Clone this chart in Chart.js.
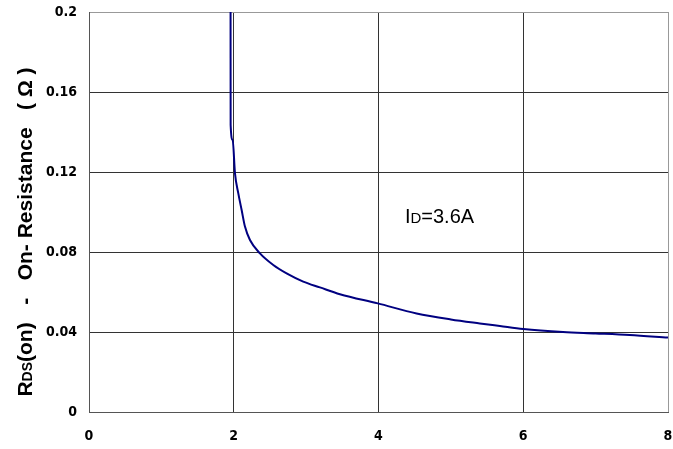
<!DOCTYPE html>
<html>
<head>
<meta charset="utf-8">
<script src="https://cdn.jsdelivr.net/npm/chart.js@4/dist/chart.umd.min.js"></script>
<style>
  html, body { margin: 0; padding: 0; background: #fff; overflow: hidden; }
  #wrap { position: relative; width: 673px; height: 449px; }
  #chartRds { display: block; }
</style>
</head>
<body>
<div id="wrap"><canvas id="chartRds"></canvas></div>
<script>
// Gate voltage (V) and RDS(on) (ohm)
var vgs = [1.956, 1.957, 1.985, 2.017, 2.063, 2.109, 2.155, 2.224, 2.362, 2.546, 2.73, 2.96, 3.19, 3.467, 3.99, 4.526, 5.0, 5.4, 5.677, 6.0, 6.55, 7.0, 7.47, 8.0];
var rds = [0.2, 0.1435, 0.136, 0.1193, 0.1093, 0.101, 0.0927, 0.086, 0.0793, 0.0735, 0.0693, 0.0652, 0.0623, 0.0589, 0.0543, 0.0493, 0.0463, 0.0443, 0.043, 0.0415, 0.040, 0.0393, 0.0385, 0.0372];
var xTicks = [0, 2, 4, 6, 8];
var yTicks = [0, 0.04, 0.08, 0.12, 0.16, 0.2];
var yLabels = ['0', '0.04', '0.08', '0.12', '0.16', '0.2'];

var points = [];
for (var i in vgs) {
    points.push({ x: vgs[i], y: rds[i] });
}

var tickFont = { family: "'DejaVu Sans Condensed', 'Liberation Sans Narrow', Arial", size: 14, weight: 'bold' };
var titleFont = "'Liberation Sans', Arial";

// no extra room for the end labels, the plot box is set by layout padding
function noPad(scale) {
    scale.paddingTop = 0;
    scale.paddingBottom = 0;
    scale.paddingLeft = 0;
    scale.paddingRight = 0;
}

// draws the rotated y title and the ID note, with the smaller subscript letters
var textPlugin = {
    id: 'texts',
    afterDraw: function(chart) {
        var ctx = chart.ctx;
        var parts = [
            ['R', 21], ['DS', 14], ['(on)   -   On- Resistance   ( \u03A9 )', 21]
        ];
        ctx.save();
        ctx.fillStyle = '#000';
        ctx.textBaseline = 'alphabetic';
        var total = 0;
        parts.forEach(function(p) {
            ctx.font = 'bold ' + p[1] + 'px ' + titleFont;
            total += ctx.measureText(p[0]).width;
        });
        ctx.translate(32, 232);
        ctx.rotate(-Math.PI / 2);
        var x = -total / 2;
        parts.forEach(function(p) {
            ctx.font = 'bold ' + p[1] + 'px ' + titleFont;
            ctx.fillText(p[0], x, 0);
            x += ctx.measureText(p[0]).width;
        });
        ctx.restore();

        var xs = chart.scales.x, ys = chart.scales.y;
        var note = [['I', 20], ['D', 15], ['=3.6A', 20]];
        var nx = xs.getPixelForValue(4.365);
        var ny = ys.getPixelForValue(0.0945);
        ctx.save();
        ctx.fillStyle = '#000';
        note.forEach(function(p) {
            ctx.font = p[1] + 'px ' + titleFont;
            ctx.fillText(p[0], nx, ny);
            nx += ctx.measureText(p[0]).width;
        });
        ctx.restore();
    }
};

var ctx = document.getElementById('chartRds').getContext('2d');
var chart = new Chart(ctx, {
    type: 'scatter',
    data: {
        datasets: [{
            data: points,
            showLine: true,
            borderColor: '#000080',
            borderWidth: 2,
            pointRadius: 0,
            cubicInterpolationMode: 'monotone',
            fill: false
        }]
    },
    options: {
        responsive: true,
        maintainAspectRatio: false,
        animation: false,
        layout: { padding: { top: 12, right: 5, left: 0, bottom: 0 } },
        plugins: {
            legend: { display: false },
            tooltip: { enabled: false }
        },
        scales: {
            x: {
                type: 'linear',
                min: 0,
                max: 8,
                afterFit: function(scale) { scale.height = 37; noPad(scale); },
                afterBuildTicks: function(scale) {
                    scale.ticks = xTicks.map(function(v) { return { value: v }; });
                },
                ticks: { color: '#000', font: tickFont, padding: 16, maxRotation: 0 },
                grid: {
                    drawTicks: false,
                    lineWidth: 1,
                    color: function(c) { return c.index === xTicks.length - 1 ? '#999' : '#333'; }
                },
                border: { color: '#555' }
            },
            y: {
                type: 'linear',
                min: 0,
                max: 0.2,
                afterFit: function(scale) { scale.width = 89; noPad(scale); },
                afterBuildTicks: function(scale) {
                    scale.ticks = yTicks.map(function(v) { return { value: v }; });
                },
                ticks: {
                    color: '#000',
                    font: tickFont,
                    padding: 12,
                    callback: function(v) { return yLabels[yTicks.indexOf(v)]; }
                },
                grid: {
                    drawTicks: false,
                    lineWidth: 1,
                    color: function(c) { return c.index === yTicks.length - 1 ? '#999' : '#333'; }
                },
                border: { color: '#555' }
            }
        }
    },
    plugins: [textPlugin]
});
</script>
</body>
</html>
